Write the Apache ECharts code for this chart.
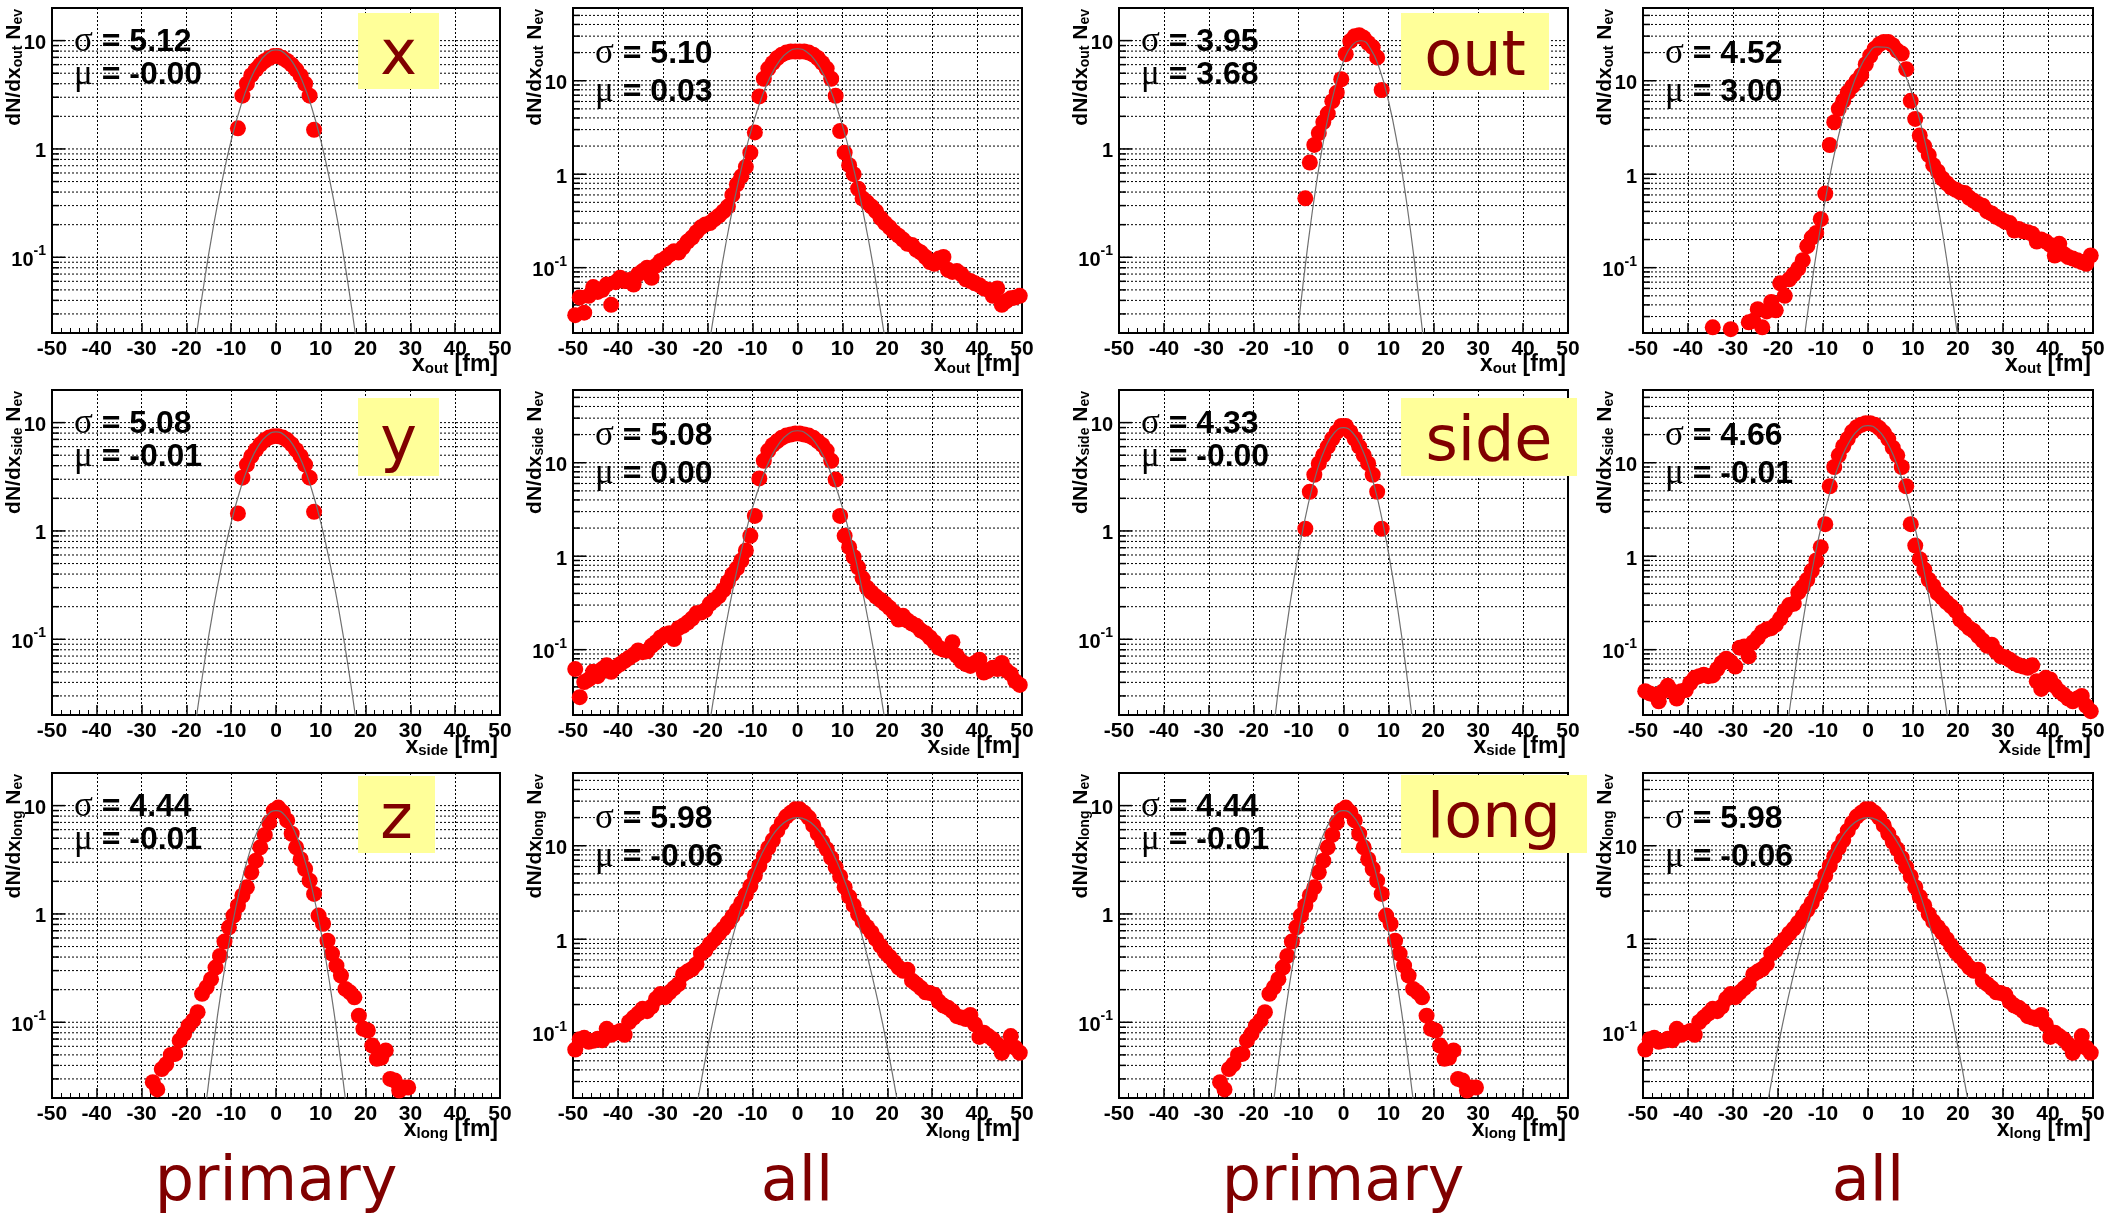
<!DOCTYPE html>
<html><head><meta charset="utf-8">
<script src="https://cdn.jsdelivr.net/npm/echarts@6/dist/echarts.min.js"></script>
<style>html,body{margin:0;padding:0;background:#fff}#c{width:2111px;height:1217px}</style>
</head><body><div id="c"></div><script>
// ---------- bin centres (x) ----------
const binsPrim = [-8.5,-7.5,-6.5,-5.5,-4.5,-3.5,-2.5,-1.5,-0.5,0.5,1.5,2.5,3.5,4.5,5.5,6.5,7.5,8.5];
const binsLong = [-27.5,-26.5,-25.5,-24.5,-23.5,-22.5,-21.5,-20.5,-19.5,-18.5,-17.5,-16.5,-15.5,-14.5,-13.5,-12.5,-11.5,-10.5,-9.5,-8.5,-7.5,-6.5,-5.5,-4.5,-3.5,-2.5,-1.5,-0.5,0.5,1.5,2.5,3.5,4.5,5.5,6.5,7.5,8.5,9.5,10.5,11.5,12.5,13.5,14.5,15.5,16.5,17.5,18.5,19.5,20.5,21.5,22.5,23.5,24.5,25.5,26.5,27.5,28.5,29.5];
const binsAll = [-49.5,-48.5,-47.5,-46.5,-45.5,-44.5,-43.5,-42.5,-41.5,-40.5,-39.5,-38.5,-37.5,-36.5,-35.5,-34.5,-33.5,-32.5,-31.5,-30.5,-29.5,-28.5,-27.5,-26.5,-25.5,-24.5,-23.5,-22.5,-21.5,-20.5,-19.5,-18.5,-17.5,-16.5,-15.5,-14.5,-13.5,-12.5,-11.5,-10.5,-9.5,-8.5,-7.5,-6.5,-5.5,-4.5,-3.5,-2.5,-1.5,-0.5,0.5,1.5,2.5,3.5,4.5,5.5,6.5,7.5,8.5,9.5,10.5,11.5,12.5,13.5,14.5,15.5,16.5,17.5,18.5,19.5,20.5,21.5,22.5,23.5,24.5,25.5,26.5,27.5,28.5,29.5,30.5,31.5,32.5,33.5,34.5,35.5,36.5,37.5,38.5,39.5,40.5,41.5,42.5,43.5,44.5,45.5,46.5,47.5,48.5,49.5];
const binsOutAllB = [-34.5,-30.5,-26.5,-25.5,-24.5,-23.5,-22.5,-21.5,-20.5,-19.5,-18.5,-17.5,-16.5,-15.5,-14.5,-13.5,-12.5,-11.5,-10.5,-9.5,-8.5,-7.5,-6.5,-5.5,-4.5,-3.5,-2.5,-1.5,-0.5,0.5,1.5,2.5,3.5,4.5,5.5,6.5,7.5,8.5,9.5,10.5,11.5,12.5,13.5,14.5,15.5,16.5,17.5,18.5,19.5,20.5,21.5,22.5,23.5,24.5,25.5,26.5,27.5,28.5,29.5,30.5,31.5,32.5,33.5,34.5,35.5,36.5,37.5,38.5,39.5,40.5,41.5,42.5,43.5,44.5,45.5,46.5,47.5,48.5,49.5];

// ---------- histogram values (dN/dx) ----------
const yPrimX = [1.55,3.1,4.0,4.8,5.4,6.0,6.5,6.9,7.2,7.2,6.9,6.5,6.0,5.4,4.75,4.0,3.1,1.5];
const yPrimY = [1.45,3.1,4.1,4.9,5.6,6.3,6.9,7.3,7.5,7.5,7.3,6.9,6.3,5.6,4.9,4.1,3.1,1.5];
const yPrimOut = [0.35,0.75,1.09,1.40,1.77,2.12,2.76,3.30,4.40,7.5,9.9,11.0,11.2,10.6,9.5,8.7,7.0,3.5];
const yPrimSide = [1.05,2.3,3.3,4.2,5.0,6.0,7.1,8.2,9.3,9.3,8.2,7.1,6.0,5.0,4.2,3.3,2.3,1.05];
const yPrimLong = [0.028,0.024,0.037,0.041,0.050,0.051,0.068,0.078,0.093,0.104,0.124,0.183,0.21,0.25,0.32,0.41,0.556,0.753,0.966,1.19,1.48,1.76,2.42,3.1,4.12,5.36,7.0,9.0,9.6,8.7,7.3,5.5,4.12,3.2,2.6,2.03,1.53,0.966,0.81,0.567,0.43,0.333,0.27,0.203,0.189,0.17,0.115,0.087,0.084,0.061,0.046,0.047,0.055,0.030,0.029,0.0234,0.025,0.025];
const yAllOut = [
 0.031,0.048,0.033,0.050,0.062,0.055,0.058,0.066,0.040,0.070,
 0.078,0.072,0.074,0.066,0.085,0.092,0.100,0.078,0.105,0.118,
 0.125,0.138,0.150,0.145,0.165,0.190,0.210,0.240,0.270,0.290,
 0.300,0.330,0.360,0.400,0.450,0.600,0.780,0.950,1.20,1.70,
 2.80,6.8,10.5,13.5,15.5,17.5,19.0,20.0,20.5,20.5,
 20.5,20.5,20.0,19.0,17.5,15.5,13.5,10.5,6.9,2.9,
 1.70,1.25,1.00,0.70,0.55,0.50,0.45,0.40,0.34,0.30,
 0.27,0.24,0.22,0.20,0.18,0.175,0.155,0.145,0.130,0.115,
 0.110,0.125,0.130,0.095,0.090,0.092,0.085,0.075,0.072,0.068,
 0.065,0.060,0.058,0.050,0.060,0.040,0.044,0.047,0.048,0.050];
const yAllOutB = [0.023,0.022,
 0.026,0.027,0.036,0.023,0.034,0.043,0.035,0.068,0.050,0.075,0.085,0.098,0.120,0.170,0.210,0.235,0.330,
 0.620,2.05,3.6,5.0,6.1,7.5,8.7,10.0,11.5,15.0,
 18.5,22.0,24.5,26.0,26.0,24.0,21.0,19.5,13.3,6.1,
 3.9,2.6,2.0,1.6,1.25,1.07,0.90,0.80,0.72,0.68,
 0.64,0.63,0.56,0.52,0.48,0.46,0.40,0.38,0.35,0.33,
 0.31,0.30,0.25,0.26,0.245,0.24,0.23,0.19,0.20,0.19,
 0.175,0.135,0.18,0.14,0.13,0.125,0.12,0.115,0.11,0.135];
const yAllSide = [
 0.062,0.031,0.045,0.048,0.058,0.052,0.062,0.068,0.058,0.065,
 0.070,0.076,0.082,0.088,0.098,0.094,0.096,0.110,0.120,0.135,
 0.145,0.150,0.130,0.170,0.180,0.195,0.215,0.245,0.250,0.265,
 0.310,0.340,0.375,0.435,0.530,0.640,0.740,0.900,1.15,1.65,
 2.70,6.8,10.5,13.5,15.5,17.0,18.5,19.5,20.0,20.5,
 20.5,20.0,19.5,18.5,17.0,15.5,13.5,10.5,6.6,2.7,
 1.65,1.25,0.98,0.76,0.58,0.46,0.41,0.37,0.34,0.31,
 0.28,0.25,0.21,0.23,0.205,0.19,0.18,0.16,0.15,0.135,
 0.12,0.105,0.10,0.098,0.120,0.086,0.075,0.070,0.067,0.072,
 0.078,0.057,0.060,0.064,0.062,0.072,0.060,0.055,0.046,0.042];
const yAllSideB = [
 0.036,0.034,0.033,0.028,0.036,0.041,0.036,0.030,0.036,0.037,
 0.044,0.050,0.052,0.054,0.052,0.053,0.062,0.072,0.080,0.074,
 0.066,0.105,0.108,0.085,0.120,0.135,0.155,0.165,0.170,0.185,
 0.215,0.260,0.300,0.310,0.410,0.470,0.560,0.700,0.900,1.25,
 2.2,5.6,9.0,12.0,15.0,18.0,21.5,24.0,25.5,26.5,
 26.5,25.5,23.5,21.0,18.0,14.5,12.0,9.0,5.6,2.2,
 1.30,0.93,0.72,0.56,0.48,0.40,0.36,0.32,0.29,0.26,
 0.21,0.19,0.17,0.158,0.140,0.125,0.110,0.113,0.095,0.085,
 0.083,0.078,0.072,0.068,0.066,0.064,0.068,0.046,0.038,0.050,
 0.048,0.041,0.036,0.033,0.030,0.028,0.030,0.032,0.025,0.022];
const yAllLong = [
 0.066,0.085,0.088,0.080,0.082,0.086,0.083,0.110,0.095,0.100,
 0.104,0.095,0.130,0.145,0.160,0.180,0.170,0.190,0.230,0.260,
 0.240,0.270,0.300,0.330,0.420,0.450,0.480,0.540,0.700,0.760,
 0.890,1.00,1.15,1.30,1.50,1.75,2.05,2.45,3.0,3.7,
 4.8,6.1,7.7,9.5,11.5,14.5,17.5,20.5,22.5,24.5,
 24.5,22.5,20.0,16.5,13.5,11.0,9.2,7.4,5.9,4.7,
 3.6,2.85,2.3,1.85,1.55,1.35,1.18,1.00,0.85,0.73,
 0.65,0.57,0.50,0.46,0.47,0.36,0.33,0.30,0.27,0.265,
 0.255,0.215,0.195,0.185,0.170,0.150,0.145,0.140,0.155,0.123,
 0.090,0.100,0.092,0.085,0.075,0.061,0.070,0.092,0.069,0.061];

// ---------- Gaussian fit curves ----------
const fitX16 = [-16,-14,-12,-10,-8,-6,-4,-2,0,2,4,6,8,10,12,14,16];
const fitX18 = [-18,-16,-14,-12,-10,-8,-6,-4,-2,0,2,4,6,8,10,12,14,16,18];
const fitX20 = [-20,-18,-16,-14,-12,-10,-8,-6,-4,-2,0,2,4,6,8,10,12,14,16,18,20];
const fitX24 = [-24,-22,-20,-18,-16,-14,-12,-10,-8,-6,-4,-2,0,2,4,6,8,10,12,14,16,18,20,22,24];
const fitXOut = [-10,-8,-6,-4,-2,0,2,4,6,8,10,12,14,16,18];
const fitXOutB = [-14,-12,-10,-8,-6,-4,-2,0,2,4,6,8,10,12,14,16,18,20];
const fitPrimX = [0.0162,0.0598,0.189,0.514,1.20,2.39,4.10,6.03,7.59,8.2,7.59,6.03,4.10,2.39,1.20,0.514,0.189,0.0598,0.0162];
const fitAllOut = [0.0116,0.0487,0.176,0.545,1.45,3.33,6.57,11.2,16.3,20.4,22,20.4,16.3,11.2,6.57,3.33,1.45,0.545,0.176,0.0487,0.0116];
const fitPrimOut = [0.0244,0.124,0.490,1.50,3.53,6.45,9.12,9.97,8.44,5.53,2.80,1.10,0.334,0.0784,0.0142];
const fitAllOutB = [0.0204,0.098,0.386,1.25,3.32,7.25,13.0,19.1,23.0,22.8,18.5,12.4,6.77,3.04,1.12,0.340,0.0844,0.0172];
const fitAllSide = [0.0116,0.0487,0.176,0.545,1.45,3.33,6.57,11.2,16.3,20.4,22,20.4,16.3,11.2,6.57,3.33,1.45,0.545,0.176,0.0487,0.0116];
const fitPrimSide = [0.0103,0.0504,0.200,0.638,1.66,3.47,5.89,8.10,9,8.10,5.89,3.47,1.66,0.638,0.200,0.0504,0.0103];
const fitAllSideB = [0.0143,0.0685,0.273,0.905,2.50,5.72,10.9,17.3,22.8,25,22.8,17.3,10.9,5.72,2.50,0.905,0.273,0.0685,0.0143];
const fitPrimLong = [0.0129,0.0599,0.226,0.697,1.75,3.58,5.98,8.12,9,8.12,5.98,3.58,1.75,0.697,0.226,0.0599,0.0129];
const fitAllLong = [0.00585,0.0215,0.0704,0.206,0.538,1.26,2.62,4.87,8.10,12.0,15.96,18.9,20,18.9,15.96,12.0,8.10,4.87,2.62,1.26,0.538,0.206,0.0704,0.0215,0.00585];

// ---------- axis tick values ----------
const xTickLabels = [-50,-40,-30,-20,-10,0,10,20,30,40,50];
const yGridPrim = [0.03,0.04,0.05,0.06,0.07,0.08,0.09,0.1,0.2,0.3,0.4,0.5,0.6,0.7,0.8,0.9,1,2,3,4,5,6,7,8,9,10];
const yGridAll = [0.03,0.04,0.05,0.06,0.07,0.08,0.09,0.1,0.2,0.3,0.4,0.5,0.6,0.7,0.8,0.9,1,2,3,4,5,6,7,8,9,10,20,30,40,50];
const yMajor = [0.1,1,10];

// ---------- panel descriptions ----------
const panels = [
 {r:0,c:0,kind:'prim',comp:'out', sig:'5.12',mu:'-0.00',xs:binsPrim,ys:yPrimX,  fx:fitX18,fy:fitPrimX},
 {r:0,c:1,kind:'all', comp:'out', sig:'5.10',mu:'0.03', xs:binsAll, ys:yAllOut, fx:fitX20,fy:fitAllOut},
 {r:0,c:2,kind:'prim',comp:'out', sig:'3.95',mu:'3.68', xs:binsPrim,ys:yPrimOut,fx:fitXOut,fy:fitPrimOut},
 {r:0,c:3,kind:'all', comp:'out', sig:'4.52',mu:'3.00', xs:binsOutAllB,ys:yAllOutB,fx:fitXOutB,fy:fitAllOutB},
 {r:1,c:0,kind:'prim',comp:'side',sig:'5.08',mu:'-0.01',xs:binsPrim,ys:yPrimY,  fx:fitX18,fy:fitPrimX},
 {r:1,c:1,kind:'all', comp:'side',sig:'5.08',mu:'0.00', xs:binsAll, ys:yAllSide,fx:fitX20,fy:fitAllSide},
 {r:1,c:2,kind:'prim',comp:'side',sig:'4.33',mu:'-0.00',xs:binsPrim,ys:yPrimSide,fx:fitX16,fy:fitPrimSide},
 {r:1,c:3,kind:'all', comp:'side',sig:'4.66',mu:'-0.01',xs:binsAll, ys:yAllSideB,fx:fitX18,fy:fitAllSideB},
 {r:2,c:0,kind:'prim',comp:'long',sig:'4.44',mu:'-0.01',xs:binsLong,ys:yPrimLong,fx:fitX16,fy:fitPrimLong},
 {r:2,c:1,kind:'all', comp:'long',sig:'5.98',mu:'-0.06',xs:binsAll, ys:yAllLong,fx:fitX24,fy:fitAllLong},
 {r:2,c:2,kind:'prim',comp:'long',sig:'4.44',mu:'-0.01',xs:binsLong,ys:yPrimLong,fx:fitX16,fy:fitPrimLong},
 {r:2,c:3,kind:'all', comp:'long',sig:'5.98',mu:'-0.06',xs:binsAll, ys:yAllLong,fx:fitX24,fy:fitAllLong}
];
const boxLabels = ['x','y','z','out','side','long'];
const bottomLabels = ['primary','all','primary','all'];

// ---------- layout (pixels) ----------
const colLeft = [52, 573, 1119, 1643];
const colWidth = [448, 449, 449, 450];
const rowTop = [8, 390, 773];
const rowHeight = 325;
const boxRects = [[358,13,81,76],[358,398,81,78],[358,776,77,77],[1401,13,148,77],[1401,398,176,78],[1401,775,186,78]];
const bottomCenters = [276, 797, 1343, 1868];

const FONT = '"Liberation Sans", Arial, Helvetica, sans-serif';
const SERIF = '"Liberation Serif", "DejaVu Serif", serif';
const BOXFONT = '"DejaVu Sans", Verdana, sans-serif';
const MAROON = '#800000';
const DOT = [2, 2];

function logLabel(v) {
  const e = Math.log10(v), r = Math.round(e);
  if (Math.abs(e - r) > 1e-6) return '';
  if (r === 0) return '{b|1}';
  if (r === 1) return '{b|10}';
  if (r === -1) return '{b|10}{sup|-1}';
  return '';
}

const grids = [], xAxes = [], yAxes = [], series = [], graphics = [];
panels.forEach((p, i) => {
  const left = colLeft[p.c], top = rowTop[p.r], w = colWidth[p.c];
  const ymax = p.kind === 'prim' ? 20 : 60;
  grids.push({left: left, top: top, width: w, height: rowHeight, show: true,
    borderColor: '#000', borderWidth: 2, backgroundColor: '#fff', containLabel: false, outerBoundsMode: 'none'});
  xAxes.push({gridIndex: i, type: 'value', min: -50, max: 50, interval: 10,
    axisLine: {show: false},
    axisTick: {show: true, inside: true, length: 10, lineStyle: {color: '#000', width: 1.5}},
    minorTick: {show: true, splitNumber: 5, length: 5, lineStyle: {color: '#000', width: 1}},
    splitLine: {show: true, lineStyle: {color: '#000', width: 1, type: DOT}},
    minorSplitLine: {show: false},
    axisLabel: {color: '#000', fontFamily: FONT, fontWeight: 'bold', fontSize: 21, margin: 6,
      showMinLabel: true, showMaxLabel: true,
      formatter: v => xTickLabels.indexOf(Math.round(v)) >= 0 ? String(Math.round(v)) : ''}
  });
  yAxes.push({gridIndex: i, type: 'log', logBase: 10, min: 0.02, max: ymax,
    axisLine: {show: false}, axisTick: {show: false}, splitLine: {show: false},
    axisLabel: {color: '#000', fontFamily: FONT, fontWeight: 'bold', fontSize: 20, margin: 6,
      showMinLabel: true, showMaxLabel: true, formatter: logLabel,
      rich: {
        b: {fontFamily: FONT, fontWeight: 'bold', fontSize: 20, color: '#000', lineHeight: 26, verticalAlign: 'bottom'},
        sup: {fontFamily: FONT, fontWeight: 'bold', fontSize: 14, color: '#000', lineHeight: 14, verticalAlign: 'top'}
      }}
  });
  const gridVals = p.kind === 'prim' ? yGridPrim : yGridAll;
  series.push({type: 'custom', xAxisIndex: i, yAxisIndex: i, silent: true, z: 1,
    data: gridVals.map(v => [-50, v]),
    renderItem: function (params, api) {
      const v = api.value(1);
      const a = api.coord([-50, v]);
      const b = api.coord([50, v]);
      const major = yMajor.some(m => Math.abs(m - v) < 1e-9);
      return {type: 'group', children: [
        {type: 'line', shape: {x1: a[0], y1: a[1], x2: b[0], y2: b[1]},
          style: {stroke: '#000', lineWidth: 1, lineDash: DOT}},
        {type: 'line', shape: {x1: a[0], y1: a[1], x2: a[0] + (major ? 13 : 7), y2: a[1]},
          style: {stroke: '#000', lineWidth: 1.5}}
      ]};
    }
  });
  series.push({type: 'scatter', xAxisIndex: i, yAxisIndex: i, z: 3, clip: true,
    symbol: 'circle', symbolSize: 16, itemStyle: {color: '#ff0000', opacity: 1},
    data: p.xs.map((x, k) => [x, p.ys[k]])});
  series.push({type: 'line', xAxisIndex: i, yAxisIndex: i, z: 4, clip: true, silent: true,
    smooth: true, showSymbol: false, symbol: 'none',
    lineStyle: {color: '#707070', width: 1.2},
    data: p.fx.map((x, k) => [x, p.fy[k]])});

  // fit statistics
  const sy1 = top + (p.kind === 'prim' ? 34 : 46), sy2 = top + (p.kind === 'prim' ? 67 : 84);
  const statRich = {
    g: {fontFamily: SERIF, fontSize: 35, fontWeight: 'normal', fill: '#000'},
    t: {fontFamily: FONT, fontSize: 32, fontWeight: 'bold', fill: '#000'}
  };
  graphics.push({type: 'text', z: 50, x: left + 22, y: sy1,
    style: {text: '{g|σ}{t| = ' + p.sig + '}', rich: statRich, align: 'left', verticalAlign: 'middle'}});
  graphics.push({type: 'text', z: 50, x: left + 22, y: sy2,
    style: {text: '{g|μ}{t| = ' + p.mu + '}', rich: statRich, align: 'left', verticalAlign: 'middle'}});

  // axis titles
  const tRich = {
    m: {fontFamily: FONT, fontSize: 21, fontWeight: 'bold', fill: '#000', lineHeight: 21, verticalAlign: 'top'},
    s: {fontFamily: FONT, fontSize: 14, fontWeight: 'bold', fill: '#000', lineHeight: 14, padding: [12, 0, 0, 0], verticalAlign: 'bottom'}
  };
  graphics.push({type: 'text', z: 50, x: left - 48, y: top + 1, rotation: Math.PI / 2,
    style: {text: '{m|dN/dx}{s|' + p.comp + '}{m| N}{s|ev}', rich: tRich, align: 'right', verticalAlign: 'top'}});
  const xRich = {
    m: {fontFamily: FONT, fontSize: 23, fontWeight: 'bold', fill: '#000', lineHeight: 23, verticalAlign: 'top'},
    s: {fontFamily: FONT, fontSize: 15, fontWeight: 'bold', fill: '#000', lineHeight: 15, padding: [12, 0, 0, 0], verticalAlign: 'bottom'}
  };
  graphics.push({type: 'text', z: 50, x: left + w - 2, y: top + rowHeight + 20,
    style: {text: '{m|x}{s|' + p.comp + '}{m| [fm]}', rich: xRich, align: 'right', verticalAlign: 'top'}});
});

// yellow boxes with component names
boxRects.forEach((b, k) => {
  graphics.push({type: 'rect', z: 40, shape: {x: b[0], y: b[1], width: b[2], height: b[3]},
    style: {fill: '#ffff99'}});
  graphics.push({type: 'text', z: 41, x: b[0] + b[2] / 2, y: b[1] + b[3] / 2 + 7,
    style: {text: boxLabels[k], fontFamily: BOXFONT, fontSize: 62, fill: MAROON, align: 'center', verticalAlign: 'middle'}});
});
// bottom column captions
bottomLabels.forEach((t, k) => {
  graphics.push({type: 'text', z: 41, x: bottomCenters[k], y: 1184,
    style: {text: t, fontFamily: BOXFONT, fontSize: 62, fill: MAROON, align: 'center', verticalAlign: 'middle'}});
});

const chart = echarts.init(document.getElementById('c'), null, {renderer: 'canvas'});
chart.setOption({
  animation: false,
  backgroundColor: '#fff',
  grid: grids, xAxis: xAxes, yAxis: yAxes, series: series,
  graphic: {elements: graphics}
});
</script></body></html>
